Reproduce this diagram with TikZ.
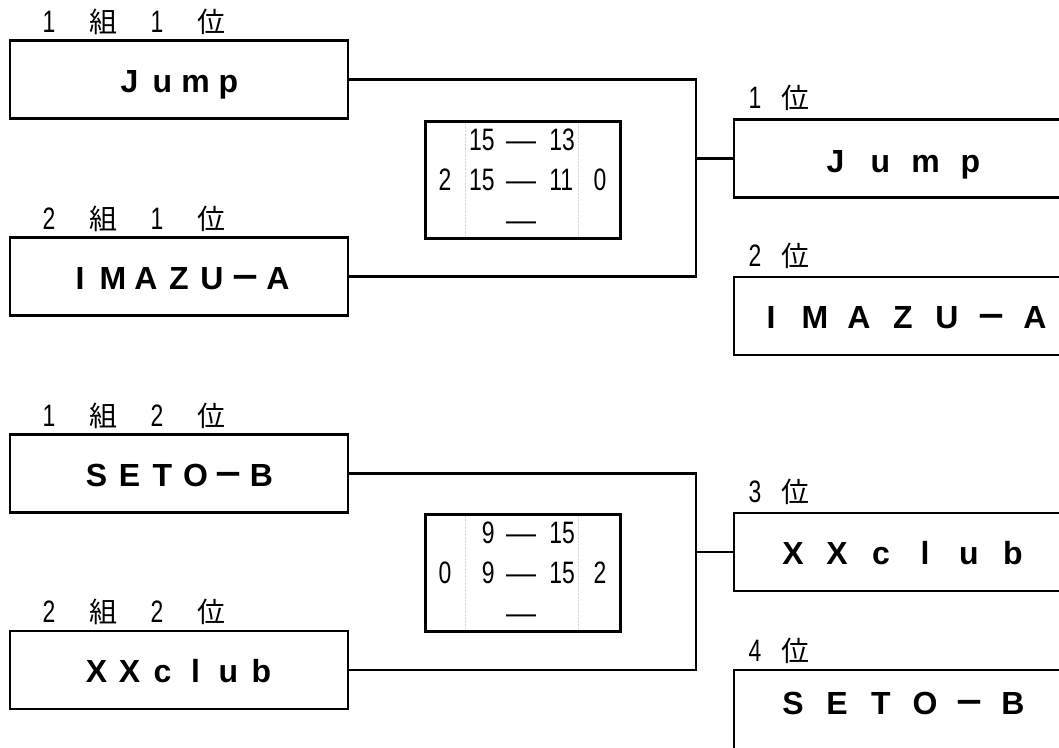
\documentclass[tikz,border=0pt]{standalone}
\usepackage{fontspec}
\usepackage{graphicx}
\usepackage{tikz}
\usetikzlibrary{positioning}
\setmainfont{Noto Sans CJK JP}
\newfontfamily\latin{Liberation Sans}
\newfontfamily\cjk{Noto Sans CJK JP}
\newlength\cellw
\newcommand{\cells}[2]{\setlength\cellw{#1}\cellsi#2\relax}
\def\cellsi#1{\ifx\relax#1\else\makebox[\cellw]{#1}\expandafter\cellsi\fi}
\newcommand{\nar}[1]{\scalebox{0.74}[1]{\latin\fontsize{31}{31}\selectfont #1}}
\newcommand{\grouprank}[2]{\makebox[54pt]{\nar{#1}}\makebox[54pt]{組}\makebox[54pt]{\nar{#2}}\makebox[54pt]{位}}
\newcommand{\finalrank}[1]{\makebox[40pt]{\nar{#1}}\makebox[40pt]{位}}

\begin{document}
\begin{tikzpicture}[
  x=1pt, y=-1pt,
  line width=2.8pt,
  team/.style={draw,rectangle,minimum width=338pt,minimum height=78pt,inner sep=0pt,
    text height=25pt,text depth=0pt,font=\latin\bfseries\fontsize{32}{32}\selectfont},
  score/.style={draw,rectangle,minimum width=195pt,minimum height=117pt,inner sep=0pt},
  tag/.style={inner sep=0pt,font=\fontsize{28}{28}\selectfont},
  num/.style={inner sep=0pt},
  bar/.style={inner sep=0pt,font=\latin\fontsize{30}{30}\selectfont},
  grid/.style={line width=0.4pt,densely dotted,black!15},
]
\useasboundingbox (0,0) rectangle (1059,747);
\clip (0,0) rectangle (1059,747);

\node[team] (jump) at (179,79.5) {\cells{33pt}{Jump}};
\node[team] (imazu) at (179,276.5) {\cells{33pt}{IMAZU{\cjk －}A}};
\node[team] (seto) at (179,473.5) {\cells{33pt}{SETO{\cjk －}B}};
\node[team] (xxclub) at (179,670) {\cells{33pt}{XXclub}};

\node[team,text height=27pt] (first) at (903,158.5) {\cells{45pt}{Jump}};
\node[team] (second) at (903,316) {\cells{44pt}{IMAZU{\cjk －}A}};
\node[team] (third) at (903,552) {\cells{44pt}{XXclub}};
\node[team,minimum height=82pt,text depth=18pt] (fourth) at (903,711) {\cells{44pt}{SETO{\cjk －}B}};

\node[tag,above right=3pt and 12pt of jump.north west] {\grouprank{1}{1}};
\node[tag,above right=3pt and 12pt of imazu.north west] {\grouprank{2}{1}};
\node[tag,above right=3pt and 12pt of seto.north west] {\grouprank{1}{2}};
\node[tag,above right=3pt and 12pt of xxclub.north west] {\grouprank{2}{2}};

\node[tag,above right=6pt and 1pt of first.north west] {\finalrank{1}};
\node[tag,above right=6pt and 1pt of second.north west] {\finalrank{2}};
\node[tag,above right=6pt and 1pt of third.north west] {\finalrank{3}};
\node[tag,above right=4pt and 1pt of fourth.north west] {\finalrank{4}};

\foreach \n/\t/\la/\ra/\lb/\rb/\lw/\rw in {game1/120/15/13/15/11/2/0, game2/513/9/15/9/15/0/2} {
  \draw[grid] (465,\t) -- (465,\t+117);
  \draw[grid] (578,\t) -- (578,\t+117);
  \node[score,anchor=north west] (\n) at (424,\t) {};
  \node[num,anchor=base east] at (496,\t+30) {\nar{\la}};
  \node[bar,anchor=base] at (521,\t+30) {—};
  \node[num,anchor=base west] at (548,\t+30) {\nar{\ra}};
  \node[num,anchor=base] at (445,\t+70) {\nar{\lw}};
  \node[num,anchor=base east] at (496,\t+70) {\nar{\lb}};
  \node[bar,anchor=base] at (521,\t+70) {—};
  \node[num,anchor=base west] at (548,\t+70) {\nar{\rb}};
  \node[num,anchor=base] at (600,\t+70) {\nar{\rw}};
  \node[bar,anchor=base] at (521,\t+110) {—};
}

\coordinate (upper) at (696,158.5);
\coordinate (lower) at (696,552);
\draw (jump.east) -| (upper) |- (imazu.east);
\draw (upper) -- (first.west);
\draw (seto.east) -| (lower) |- (xxclub.east);
\draw (lower) -- (third.west);
\end{tikzpicture}
\end{document}
